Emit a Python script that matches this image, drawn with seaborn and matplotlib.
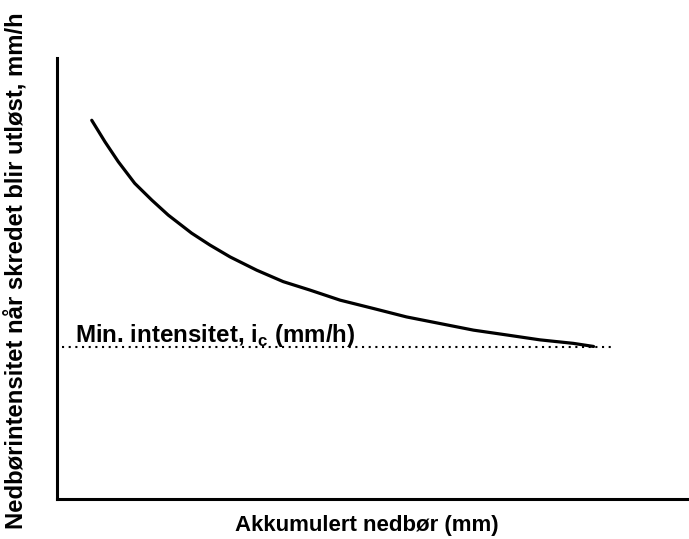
import numpy as np
import pandas as pd
import matplotlib
matplotlib.use('Agg')
import matplotlib.pyplot as plt
import seaborn as sns

sns.set_style('white')
plt.rcParams['font.family'] = ['Liberation Sans', 'DejaVu Sans']
plt.rcParams['mathtext.fontset'] = 'custom'
plt.rcParams['mathtext.rm'] = 'Liberation Sans'
plt.rcParams['mathtext.bf'] = 'Liberation Sans:bold'
plt.rcParams['text.color'] = 'black'
plt.rcParams['axes.labelcolor'] = 'black'

# curve (relative units, axes 0-100)
nedbor = [5.5, 7.6, 9.7, 12.3, 15.0, 17.6, 21.3, 24.2, 27.4, 31.6, 35.8,
          40.0, 44.8, 50.1, 55.3, 60.6, 65.9, 71.2, 76.4, 81.7, 84.9]
intensitet = [85.9, 81.0, 76.5, 71.6, 67.8, 64.4, 60.3, 57.6, 54.9, 51.9, 49.3,
              47.4, 45.1, 43.2, 41.3, 39.8, 38.3, 37.2, 36.1, 35.3, 34.6]
min_intensitet = 34.5
min_x = [0.8, 87.7]

df = pd.DataFrame({'nedbor': nedbor, 'intensitet': intensitet})

fig = plt.figure(figsize=(6.89, 5.39), dpi=100)
ax = fig.add_axes([0.0827, 0.0742, 0.9173, 0.818])

sns.lineplot(data=df, x='nedbor', y='intensitet', color='black', linewidth=2.3, ax=ax)
ax.plot(min_x, [min_intensitet, min_intensitet], color='black', linestyle=(0, (1, 2.2)), linewidth=1.5)

ax.text(2.9, 35.6, r'Min. intensitet, i$_\mathbf{c}$ (mm/h)', fontsize=17.4,
        fontweight='bold', va='baseline', ha='left', color='black')

ax.set_xlim(0, 100)
ax.set_ylim(0, 100)
ax.set_xticks([])
ax.set_yticks([])
sns.despine(ax=ax)
for s in ['left', 'bottom']:
    ax.spines[s].set_linewidth(2.2)
    ax.spines[s].set_color('black')

ax.set_xlabel('Akkumulert nedbør (mm)', fontsize=16, fontweight='bold')
ax.xaxis.set_label_coords(0.49, -0.036)
ax.set_ylabel('Nedbørintensitet når skredet blir utløst, mm/h', fontsize=17.2, fontweight='bold')
ax.yaxis.set_label_coords(-0.047, 0.517)

plt.savefig('out.png', dpi=100)
